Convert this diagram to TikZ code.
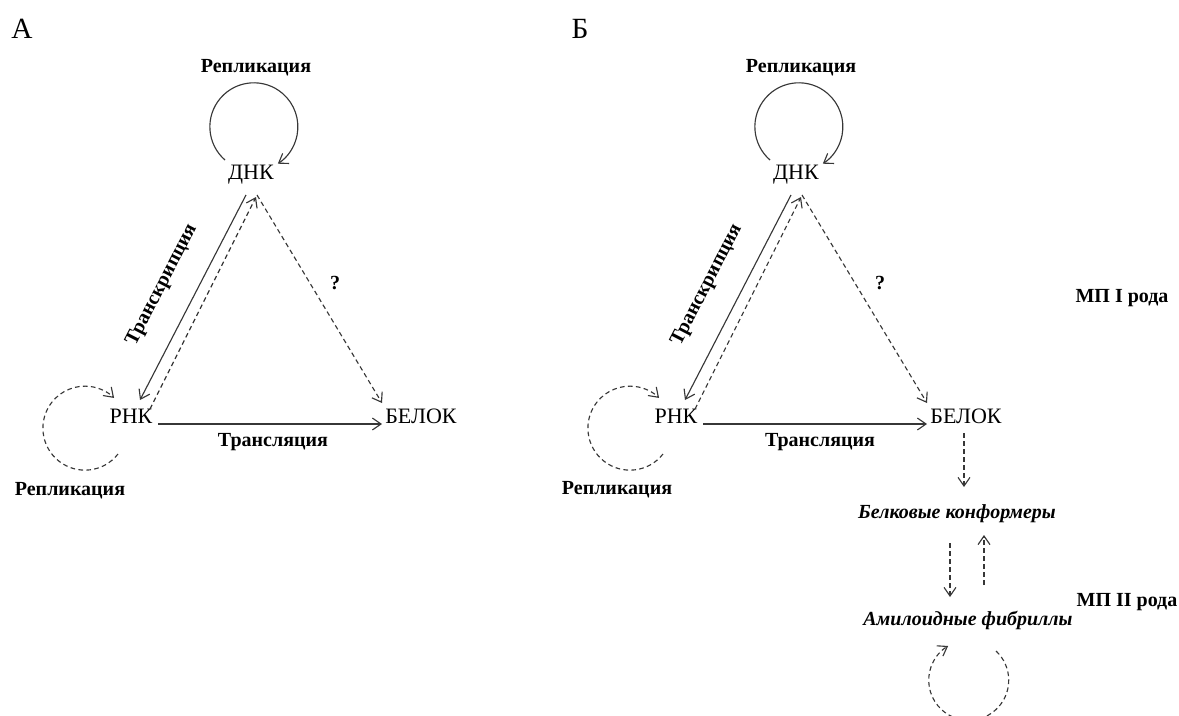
\documentclass[tikz,border=0pt]{standalone}
\usepackage{fontspec}
\setmainfont{Liberation Serif}
\usetikzlibrary{arrows.meta}

\definecolor{linegray}{RGB}{55,55,55}

\tikzset{every picture/.style={line width=0.85pt}}
\tikzset{
  mol/.style={inner sep=0.75pt, font=\fontsize{16.5}{19}\selectfont},
  proc/.style={inner sep=0.75pt, font=\fontsize{15}{17}\selectfont\bfseries},
  conf/.style={inner sep=0.75pt, font=\fontsize{15}{17}\selectfont\bfseries\itshape},
  panel/.style={inner sep=0.75pt, font=\fontsize{22}{26}\selectfont},
  solidarr/.style={draw=linegray, -{Straight Barb[length=6.5pt,width=9pt]}},
  dasharr/.style={solidarr, dash pattern=on 3.5pt off 2.5pt},
}

\begin{document}
\begin{tikzpicture}[x=0.75pt,y=0.75pt,yscale=-1,xscale=1]
\path[use as bounding box] (0,0) rectangle (1179,715);

% Text Node
\node[panel] (labA) at (22,29) {А};
% Text Node
\node[panel] (labB) at (580,29) {Б};

%%% panel A
% Text Node
\node[proc] (replA) at (256,68) {Репликация};
% Text Node
\node[mol] (dnkA) at (251,175) {ДНК};
% Text Node
\node[mol] (rnkA) at (131,416) {РНК};
% Text Node
\node[mol] (belA) at (421,416) {БЕЛОК};
% Text Node
\node[proc] (qA) at (335,283) {?};
% Text Node
\node[proc, rotate=62.7] (transcrA) at (162,285) {Транскрипция};
% Text Node
\node[proc] (translA) at (273,442) {Трансляция};
% Text Node
\node[proc] (replA2) at (70,491) {Репликация};

% Connection
\draw[solidarr] ([shift={(-26,-15)}]dnkA.center) arc[start angle=131,end angle=417,radius=44];
% Connection
\draw[solidarr] ([shift={(-5,20)}]dnkA.center) -- ([shift={(9,-16)}]rnkA.center);
% Connection
\draw[dasharr] ([shift={(19,-7)}]rnkA.center) -- ([shift={(5,22)}]dnkA.center);
% Connection
\draw[dasharr] ([shift={(6,20)}]dnkA.center) -- ([shift={(-39,-13)}]belA.center);
% Connection
\draw[solidarr] ([shift={(27,8)}]rnkA.center) -- ([shift={(-39,8)}]belA.center);
% Connection
\draw[dasharr] ([shift={(-13,38)}]rnkA.center) arc[start angle=38,end angle=314,radius=42];

%%% panel B
% Text Node
\node[proc] (replB) at (801,68) {Репликация};
% Text Node
\node[mol] (dnkB) at (796,175) {ДНК};
% Text Node
\node[mol] (rnkB) at (676,416) {РНК};
% Text Node
\node[mol] (belB) at (966,416) {БЕЛОК};
% Text Node
\node[proc] (qB) at (880,283) {?};
% Text Node
\node[proc, rotate=62.7] (transcrB) at (707,285) {Транскрипция};
% Text Node
\node[proc] (translB) at (820,442) {Трансляция};
% Text Node
\node[proc] (replB2) at (617,490) {Репликация};
% Text Node
\node[proc] (mp1) at (1122,298) {МП I рода};
% Text Node
\node[conf] (confB) at (957,514) {Белковые конформеры};
% Text Node
\node[conf] (amyB) at (968,620) {Амилоидные фибриллы};
% Text Node
\node[proc] (mp2) at (1127,602) {МП II рода};

% Connection
\draw[solidarr] ([shift={(-26,-15)}]dnkB.center) arc[start angle=131,end angle=417,radius=44];
% Connection
\draw[solidarr] ([shift={(-5,20)}]dnkB.center) -- ([shift={(9,-16)}]rnkB.center);
% Connection
\draw[dasharr] ([shift={(19,-7)}]rnkB.center) -- ([shift={(5,22)}]dnkB.center);
% Connection
\draw[dasharr] ([shift={(6,20)}]dnkB.center) -- ([shift={(-39,-13)}]belB.center);
% Connection
\draw[solidarr] ([shift={(27,8)}]rnkB.center) -- ([shift={(-39,8)}]belB.center);
% Connection
\draw[dasharr] ([shift={(-13,38)}]rnkB.center) arc[start angle=38,end angle=314,radius=42];
% Connection
\draw[dasharr] ([shift={(-2,17)}]belB.center) -- ([shift={(7,-27)}]confB.center);
% Connection
\draw[dasharr] ([shift={(-7,29)}]confB.center) -- ([shift={(-18,-23)}]amyB.center);
% Connection
\draw[dasharr] ([shift={(16,-35)}]amyB.center) -- ([shift={(27,21)}]confB.center);
% Connection
\draw[dasharr] ([shift={(28,31)}]amyB.center) arc[start angle=-47,end angle=239,radius=40];

\end{tikzpicture}
\end{document}
